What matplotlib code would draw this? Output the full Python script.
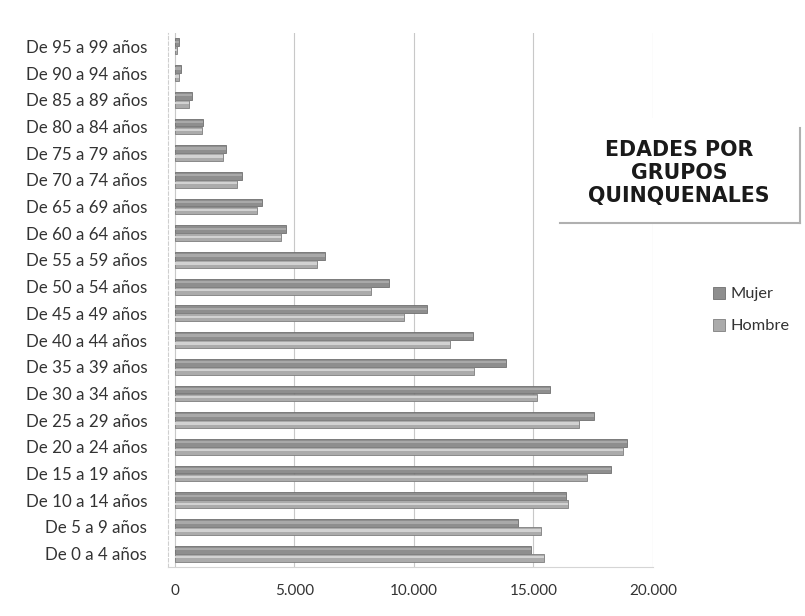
import matplotlib
matplotlib.use("Agg")
import matplotlib.pyplot as plt
from matplotlib.patches import Rectangle
import numpy as np

# Age groups, youngest first (drawn bottom to top)
grupos = [
    "De 0 a 4 años", "De 5 a 9 años", "De 10 a 14 años", "De 15 a 19 años",
    "De 20 a 24 años", "De 25 a 29 años", "De 30 a 34 años", "De 35 a 39 años",
    "De 40 a 44 años", "De 45 a 49 años", "De 50 a 54 años", "De 55 a 59 años",
    "De 60 a 64 años", "De 65 a 69 años", "De 70 a 74 años", "De 75 a 79 años",
    "De 80 a 84 años", "De 85 a 89 años", "De 90 a 94 años", "De 95 a 99 años",
]
mujer = [14890, 14350, 16350, 18230, 18910, 17530, 15690, 13840, 12460, 10530,
         8950, 6280, 4640, 3640, 2800, 2130, 1170, 710, 250, 150]
hombre = [15440, 15310, 16440, 17230, 18740, 16900, 15130, 12510, 11510, 9580,
          8200, 5940, 4440, 3430, 2590, 2010, 1130, 590, 170, 80]
xticks = [0, 5000, 10000, 15000, 20000]
xticklabels = ["0", "5.000", "10.000", "15.000", "20.000"]
titulo = "EDADES POR\nGRUPOS\nQUINQUENALES"

W, H = 805, 616
fig = plt.figure(figsize=(W / 100, H / 100), dpi=100)
fig.patch.set_facecolor("white")

left, right, top, bottom = 168, 653, 33, 567
ax = fig.add_axes([left / W, 1 - bottom / H, (right - left) / W, (bottom - top) / H])

y = np.arange(len(grupos))
bh = 0.29
off = 0.15

c_muj, c_muj_edge, c_muj_hi = "#8e8e8e", "#6f6f6f", "#a9a9a9"
c_hom, c_hom_edge, c_hom_hi = "#ababab", "#7e7e7e", "#d2d2d2"

b_m = ax.barh(y + off, mujer, height=bh, color=c_muj, edgecolor=c_muj_edge,
              linewidth=0.6, zorder=3, label="Mujer")
ax.barh(y + off + 0.02, mujer, height=bh * 0.3, color=c_muj_hi, linewidth=0, zorder=4)
b_h = ax.barh(y - off, hombre, height=bh, color=c_hom, edgecolor=c_hom_edge,
              linewidth=0.6, zorder=3, label="Hombre")
ax.barh(y - off + 0.02, hombre, height=bh * 0.3, color=c_hom_hi, linewidth=0, zorder=4)

ax.set_xlim(-290, 20000)
ax.set_ylim(-0.5, len(grupos) - 0.5)

ax.set_yticks(y)
ax.set_yticklabels(grupos, fontfamily="Lato", fontsize=12.2, color="#333333")
ax.set_xticks(xticks)
ax.set_xticklabels(xticklabels, fontfamily="Lato", fontsize=11, color="#333333")
ax.tick_params(axis="y", length=0, pad=15)
ax.tick_params(axis="x", length=0, pad=12)

ax.grid(axis="x", color="#c8c8c8", linewidth=0.8, zorder=0)
for s in ["top", "right"]:
    ax.spines[s].set_visible(False)
ax.spines["left"].set_color("#cfcfcf")
ax.spines["left"].set_linestyle((0, (3, 2)))
ax.spines["left"].set_linewidth(0.8)
ax.spines["bottom"].set_color("#d5d5d5")
ax.spines["bottom"].set_linewidth(0.8)

# Title box with a soft shadow on the right and bottom edges
tb_x0, tb_x1, tb_y0, tb_y1 = 560, 800, 118, 223
fig.patches.append(Rectangle((tb_x0 / W, 1 - tb_y1 / H), (tb_x1 - tb_x0) / W,
                             (tb_y1 - tb_y0) / H, transform=fig.transFigure,
                             facecolor="white", edgecolor="none", zorder=5))
fig.add_artist(plt.Line2D([tb_x0 / W, tb_x1 / W], [1 - tb_y1 / H] * 2,
                          transform=fig.transFigure, color="#b0b0b0", lw=1.5, zorder=6))
fig.add_artist(plt.Line2D([tb_x1 / W] * 2, [1 - tb_y1 / H, 1 - (tb_y0 + 10) / H],
                          transform=fig.transFigure, color="#b0b0b0", lw=1.5, zorder=6))
fig.text(679 / W, 1 - 173 / H, titulo, ha="center", va="center",
         fontfamily="DejaVu Sans", fontweight="bold", fontsize=14.8,
         color="#1a1a1a", linespacing=1.2, zorder=7)

fig.legend(handles=[b_m, b_h], labels=["Mujer", "Hombre"], loc="center left",
           bbox_to_anchor=(698 / W, 1 - 310 / H), frameon=False,
           prop={"family": "Lato", "size": 11.8}, handlelength=0.75, handleheight=0.75,
           handletextpad=0.35, labelspacing=1.05, labelcolor="#333333")

fig.savefig("out.png", dpi=100, facecolor="white")
